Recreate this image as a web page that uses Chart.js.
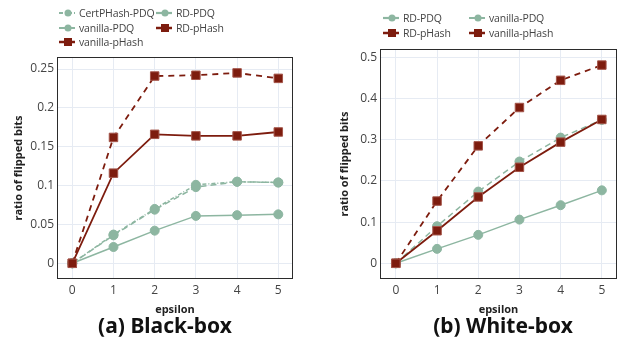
<!DOCTYPE html>
<html lang="en">
<head>
    <meta charset="UTF-8">
    <title>Flipped bits vs epsilon</title>
    <style>
        body { margin: 0; background: #fff; width: 624px; height: 339px; position: relative; overflow: hidden; font-family: "Open Sans", sans-serif; }
        canvas { position: absolute; top: 0; }
        .legend { position: absolute; display: grid; font-size: 10.5px; letter-spacing: -0.15px; color: #444; }
        .legend .item { display: flex; align-items: center; height: 14.5px; white-space: nowrap; }
        .legend svg { margin-right: 4px; flex: none; }
        .caption { position: absolute; top: 311px; width: 220px; text-align: center; font-family: "Noto Sans", sans-serif; font-weight: bold; font-size: 21px; line-height: 28px; color: #111; }
    </style>
    <script src="https://cdn.jsdelivr.net/npm/chart.js"></script>
</head>
<body>
    <canvas id="blackBox" width="312" height="339" style="left:0"></canvas>
    <canvas id="whiteBox" width="312" height="339" style="left:312px"></canvas>
    <div class="legend" id="legendA" style="left:59px; top:6px; grid-template-columns: 97px auto;"></div>
    <div class="legend" id="legendB" style="left:383px; top:11px; grid-template-columns: 86px auto;"></div>
    <div class="caption" style="left:55px">(a) Black-box</div>
    <div class="caption" style="left:393px">(b) White-box</div>

    <script>
        const epsilon = [0, 1, 2, 3, 4, 5];
        const xTicks = [0, 1, 2, 3, 4, 5];
        const yTicksA = [0, 0.05, 0.1, 0.15, 0.2, 0.25];
        const yTicksB = [0, 0.1, 0.2, 0.3, 0.4, 0.5];

        // (a) black-box
        const bbCertPdq = [0, 0.037, 0.070, 0.101, 0.105, 0.104];
        const bbRdPdq = [0, 0.021, 0.042, 0.061, 0.062, 0.063];
        const bbVanillaPdq = [0, 0.036, 0.069, 0.098, 0.105, 0.104];
        const bbRdPhash = [0, 0.116, 0.166, 0.164, 0.164, 0.169];
        const bbVanillaPhash = [0, 0.162, 0.241, 0.242, 0.245, 0.238];

        // (b) white-box
        const wbRdPdq = [0, 0.035, 0.069, 0.106, 0.141, 0.177];
        const wbVanillaPdq = [0, 0.090, 0.174, 0.247, 0.305, 0.348];
        const wbRdPhash = [0, 0.079, 0.161, 0.233, 0.294, 0.349];
        const wbVanillaPhash = [0, 0.151, 0.285, 0.378, 0.444, 0.481];

        const RED = '#7d1c0e';
        const GREEN = '#8db6a1';

        // line style per series name
        const styles = {
            'CertPHash-PDQ': { color: GREEN, dash: [4, 2, 1, 2], width: 1.5, marker: 'circle' },
            'RD-PDQ': { color: GREEN, dash: [], width: 1.5, marker: 'circle' },
            'vanilla-PDQ': { color: GREEN, dash: [6, 4], width: 1.5, marker: 'circle' },
            'RD-pHash': { color: RED, dash: [], width: 1.8, marker: 'rect' },
            'vanilla-pHash': { color: RED, dash: [6, 5], width: 1.8, marker: 'rect' }
        };

        function makeDataset(name, values) {
            const s = styles[name];
            return {
                label: name,
                data: epsilon.map((x, i) => ({ x: x, y: values[i] })),
                borderColor: s.color,
                backgroundColor: s.color,
                borderWidth: s.width,
                borderDash: s.dash,
                pointStyle: s.marker,
                pointRadius: s.marker === 'rect' ? 6 : 4.5,
                pointBorderWidth: 1,
                pointBorderColor: s.marker === 'rect' ? '#a4554a' : s.color,
                pointHoverRadius: 6,
                order: s.marker === 'rect' ? 0 : 1,
                tension: 0
            };
        }

        // plotly-like frame around the plot area
        const frame = {
            id: 'frame',
            afterDraw(chart) {
                const a = chart.chartArea;
                const ctx = chart.ctx;
                ctx.save();
                ctx.strokeStyle = '#2b2b2b';
                ctx.lineWidth = 1;
                ctx.strokeRect(Math.round(a.left) + 0.5, Math.round(a.top) + 0.5,
                    Math.round(a.right - a.left) - 1, Math.round(a.bottom - a.top) - 1);
                ctx.restore();
            }
        };

        function makeChart(id, datasets, yTicks, range, yWidth, pad, titlePad) {
            const ctx = document.getElementById(id).getContext('2d');
            return new Chart(ctx, {
                type: 'line',
                data: { datasets: datasets },
                options: {
                    responsive: false,
                    animation: false,
                    layout: { padding: pad },
                    plugins: { legend: { display: false }, tooltip: { enabled: false } },
                    scales: {
                        x: {
                            type: 'linear',
                            min: range.xMin,
                            max: range.xMax,
                            afterBuildTicks: s => { s.ticks = xTicks.map(v => ({ value: v })); },
                            afterFit: s => { s.height = 37; },
                            grid: { color: '#e6ebf3', drawTicks: false },
                            border: { display: false },
                            ticks: { color: '#444', font: { family: 'Open Sans', size: 12 }, padding: 4 },
                            title: { display: true, text: 'epsilon', color: '#222', padding: 0,
                                font: { family: 'Open Sans', size: 11, weight: 'bold' } }
                        },
                        y: {
                            min: range.yMin,
                            max: range.yMax,
                            afterBuildTicks: s => { s.ticks = yTicks.map(v => ({ value: v })); },
                            afterFit: s => { s.width = yWidth; },
                            grid: { color: '#e6ebf3', drawTicks: false },
                            border: { display: false },
                            ticks: { color: '#444', font: { family: 'Open Sans', size: 12 }, padding: 3,
                                callback: v => String(v) },
                            title: { display: true, text: 'ratio of flipped bits', color: '#222',
                                padding: { top: titlePad, bottom: 0 },
                                font: { family: 'Open Sans', size: 11, weight: 'bold' } }
                        }
                    }
                },
                plugins: [frame]
            });
        }

        function buildLegend(elId, names) {
            const el = document.getElementById(elId);
            names.forEach(name => {
                const s = styles[name];
                const dash = s.dash.length ? `stroke-dasharray="${s.dash.join(' ')}"` : '';
                const mark = s.marker === 'rect'
                    ? `<rect x="5" y="3" width="8" height="8" fill="${s.color}"/>`
                    : `<circle cx="9" cy="7" r="3.5" fill="${s.color}"/>`;
                const item = document.createElement('div');
                item.className = 'item';
                item.innerHTML = `<svg width="16" height="14"><line x1="0" y1="7" x2="16" y2="7" stroke="${s.color}" stroke-width="${s.width + 0.7}" ${dash}/>${mark}</svg><span>${name}</span>`;
                el.appendChild(item);
            });
        }

        makeChart('blackBox', [
            makeDataset('CertPHash-PDQ', bbCertPdq),
            makeDataset('RD-PDQ', bbRdPdq),
            makeDataset('vanilla-PDQ', bbVanillaPdq),
            makeDataset('RD-pHash', bbRdPhash),
            makeDataset('vanilla-pHash', bbVanillaPhash)
        ], yTicksA, { xMin: -0.371, xMax: 5.357, yMin: -0.0202, yMax: 0.2655 }, 57,
            { top: 57, bottom: 23, left: 0, right: 19 }, 12);

        makeChart('whiteBox', [
            makeDataset('RD-PDQ', wbRdPdq),
            makeDataset('vanilla-PDQ', wbVanillaPdq),
            makeDataset('RD-pHash', wbRdPhash),
            makeDataset('vanilla-pHash', wbVanillaPhash)
        ], yTicksB, { xMin: -0.385, xMax: 5.368, yMin: -0.0381, yMax: 0.520 }, 68,
            { top: 49, bottom: 23, left: 0, right: 5 }, 26);

        buildLegend('legendA', ['CertPHash-PDQ', 'RD-PDQ', 'vanilla-PDQ', 'RD-pHash', 'vanilla-pHash']);
        buildLegend('legendB', ['RD-PDQ', 'vanilla-PDQ', 'RD-pHash', 'vanilla-pHash']);
    </script>
</body>
</html>
